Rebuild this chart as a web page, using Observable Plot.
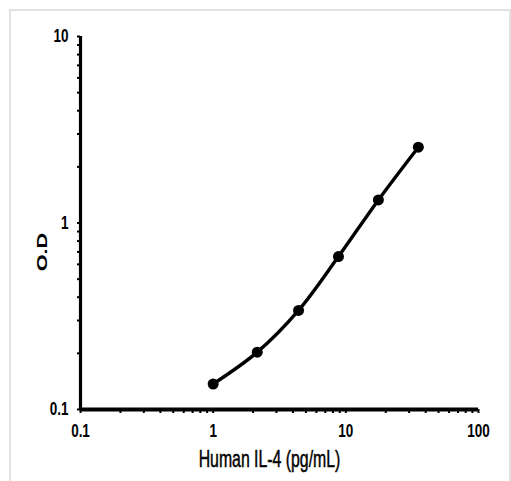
<!DOCTYPE html>
<html><head><meta charset="utf-8">
<script src="https://cdn.jsdelivr.net/npm/d3@7"></script>
<script src="https://cdn.jsdelivr.net/npm/@observablehq/plot@0.6"></script>
<style>
html,body{margin:0;padding:0;background:#fff;}
#wrap{position:relative;width:511px;height:481px;overflow:hidden;}
#frame{position:absolute;left:9px;top:9px;width:502px;height:500px;border:2px solid #e2e2e2;box-sizing:border-box;}
#chart{position:absolute;left:0;top:0;}
</style></head><body>
<div id="wrap"><div id="frame"></div><div id="chart"></div></div>
<script>
const concentration = [1, 2.15, 4.4, 8.8, 17.6, 35.2];
const od = [0.137, 0.203, 0.340, 0.661, 1.33, 2.55];
const xMajorTicks = [0.1, 1, 10, 100];
const yMajorTicks = [0.1, 1, 10];
const xLabel = "Human IL-4 (pg/mL)";
const yLabel = "O.D";

const data = concentration.map((c, i) => ({c, od: od[i]}));
const xAll = d3.scaleLog().domain([0.1, 100]).ticks();
const yAll = d3.scaleLog().domain([0.1, 10]).ticks();
const isMajor = (arr, d) => arr.some(m => Math.abs(m - d) / m < 1e-9);
const font = "'Liberation Sans', Arial, sans-serif";

const chart = Plot.plot({
  width: 511, height: 481,
  marginLeft: 80, marginRight: 33, marginTop: 36, marginBottom: 72,
  x: {type: "log", domain: [0.1, 100]},
  y: {type: "log", domain: [0.1, 10]},
  style: {fontFamily: font, fontSize: "18px", fontWeight: "bold", color: "#000", background: "transparent"},
  marks: [
    Plot.axisX(xAll, {tickSize: 4, tickPadding: 11, strokeWidth: 2, label: null,
      tickFormat: d => isMajor(xMajorTicks, d) ? String(d) : ""}),
    Plot.axisY(yAll, {tickSize: 3, tickPadding: 9, strokeWidth: 2, label: null,
      tickFormat: d => isMajor(yMajorTicks, d) ? String(d) : ""}),
    Plot.ruleY([0.1], {strokeWidth: 3.8}),
    Plot.ruleX([0.1], {strokeWidth: 3.2}),
    Plot.line(data, {x: "c", y: "od", curve: "catmull-rom", strokeWidth: 3.4}),
    Plot.dot(data, {x: "c", y: "od", r: 5.5, fill: "black"}),
    Plot.text([xLabel], {text: d => d, frameAnchor: "bottom", textAnchor: "middle", lineAnchor: "middle",
      dy: 50, dx: -10, fontSize: 24, fontWeight: "normal", stroke: "black", strokeWidth: 0.5, fill: "black"}),
    Plot.text([yLabel], {text: d => d, frameAnchor: "left", textAnchor: "middle", lineAnchor: "middle",
      rotate: -90, dx: -38, dy: 29, fontSize: 18, fontWeight: "bold"})
  ]
});

// emulate the condensed lettering of the original figure
d3.select(chart).selectAll("text").each(function () {
  const el = d3.select(this);
  const t = el.attr("transform") || "";
  const txt = this.textContent;
  let s;
  if (txt === xLabel) s = " scale(0.66,1)";
  else if (txt === yLabel) s = " scale(1.2,0.85)";
  else s = " scale(0.75,1)";
  el.attr("transform", t + s);
});
document.getElementById("chart").appendChild(chart);
</script>
</body></html>
